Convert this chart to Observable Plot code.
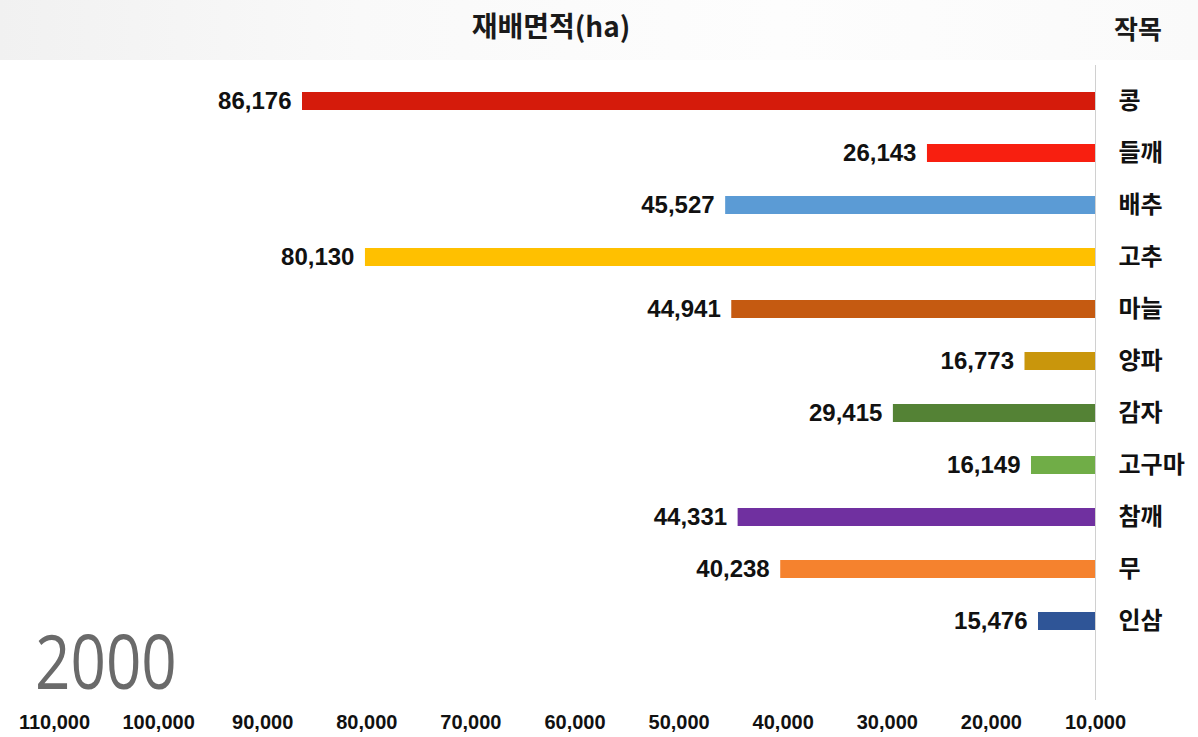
<!DOCTYPE html>
<html><head><meta charset="utf-8">
<script src="https://cdn.jsdelivr.net/npm/d3@7"></script>
<script src="https://cdn.jsdelivr.net/npm/@observablehq/plot@0.6"></script>
<style>
html,body{margin:0;padding:0;background:#fff;}
#wrap{position:relative;width:1198px;height:737px;overflow:hidden;font-family:"Liberation Sans",Arial,sans-serif;}
#head{position:relative;height:60px;background:linear-gradient(to right,#f1f1f1,#f9f9f9 30%,#fdfdfd 65%,#fafafa);}
#title{position:absolute;left:551px;top:9px;transform:translateX(-50%);font:700 28px/32px "Noto Sans CJK KR",sans-serif;color:#1a1a1a;white-space:nowrap;}
#col{position:absolute;left:1138px;top:12px;transform:translateX(-50%);font:700 26px/32px "Noto Sans CJK KR",sans-serif;color:#1a1a1a;white-space:nowrap;}
#year{position:absolute;left:35px;top:634px;font:400 62px/62px "Open Sans",sans-serif;color:#6a6a6a;transform:scaleY(1.22);transform-origin:0 55px;}
svg{display:block;}
</style></head>
<body><div id="wrap">
<div id="head"><div id="title">재배면적(ha)</div><div id="col">작목</div></div>
<div id="chart"></div>
<div id="year">2000</div>
</div>
<script>
const crops = ["콩","들깨","배추","고추","마늘","양파","감자","고구마","참깨","무","인삼"];
const area = [86176,26143,45527,80130,44941,16773,29415,16149,44331,40238,15476];
const colors = ["#d51b0b","#f81f10","#5b9bd5","#ffc000","#c55a11","#c9960c","#548235","#70ad47","#7030a0","#f5822e","#2f5597"];
const xTicks = [110000,100000,90000,80000,70000,60000,50000,40000,30000,20000,10000];
const baseline = 10000;
const data = crops.map((c,i)=>({crop:c, area:area[i]}));
const fmt = d3.format(",");

const chart = Plot.plot({
  width:1198, height:677,
  marginLeft:54, marginRight:103, marginTop:14, marginBottom:90,
  style:{background:"transparent", fontFamily:"Liberation Sans, Arial, sans-serif"},
  x:{domain:[110000,10000], axis:null},
  y:{domain:crops, paddingInner:0.655, paddingOuter:0.3275, axis:null},
  color:{domain:crops, range:colors},
  marks:[
    Plot.ruleX([baseline], {stroke:"#d0d0d0", strokeWidth:1, insetTop:-9, insetBottom:-53}),
    Plot.barX(data, {x1:baseline, x2:"area", y:"crop", fill:"crop"}),
    Plot.text(data, {x:"area", y:"crop", text:d=>fmt(d.area), textAnchor:"end", dx:-11, fontSize:24, fontWeight:"bold", fill:"#111"}),
    Plot.text(data, {x:baseline, y:"crop", text:"crop", textAnchor:"start", dx:23, fontSize:24, fontWeight:"bold", fill:"#111", fontFamily:"Noto Sans CJK KR, sans-serif"}),
    Plot.axisX(xTicks, {anchor:"bottom", tickSize:0, tickPadding:67, tickFormat:fmt, fontSize:20, fontWeight:"bold", fill:"#111", label:null})
  ]
});
document.getElementById("chart").appendChild(chart);
</script>
</body></html>
